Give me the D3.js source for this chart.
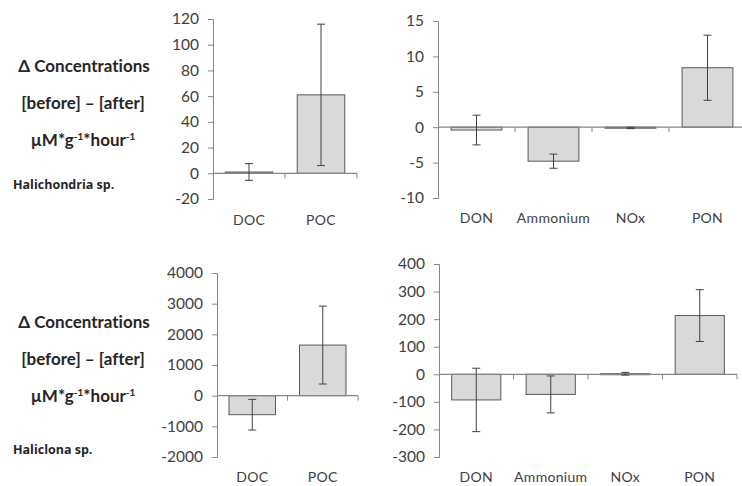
<!DOCTYPE html>
<html>
<head>
<meta charset="utf-8">
<script src="https://cdn.jsdelivr.net/npm/d3@7"></script>
<style>
  body { margin: 0; background: #fff; }
  svg { display: block; font-family: Lato, "Open Sans", sans-serif; font-variant-ligatures: none; }
</style>
</head>
<body>
<svg id="chart" width="742" height="486"></svg>
<script>
// categories
const carbonCats = ['DOC', 'POC'];
const nitrogenCats = ['DON', 'Ammonium', 'NOx', 'PON'];

// Halichondria sp. (top row)
const halichondriaC = [1, 61];
const halichondriaCErr = [6.5, 55];
const halichondriaN = [-0.4, -4.8, -0.1, 8.4];
const halichondriaNErr = [2.1, 1.0, 0.1, 4.6];

// Haliclona sp. (bottom row)
const haliclonaC = [-620, 1650];
const haliclonaCErr = [500, 1270];
const haliclonaN = [-93, -73, 2, 213];
const haliclonaNErr = [115, 67, 5, 94];

// tick labels
const ticks1 = [-20, 0, 20, 40, 60, 80, 100, 120];
const ticks2 = [-10, -5, 0, 5, 10, 15];
const ticks3 = [-2000, -1000, 0, 1000, 2000, 3000, 4000];
const ticks4 = [-300, -200, -100, 0, 100, 200, 300, 400];

const species = ['Halichondria sp.', 'Haliclona sp.'];

const svg = d3.select('#chart');

const panels = [
  { cats: carbonCats, vals: halichondriaC, errs: halichondriaCErr, ticks: ticks1,
    x0: 213, x1: 357, yTop: 19, yBot: 199, labelY: 225 },
  { cats: nitrogenCats, vals: halichondriaN, errs: halichondriaNErr, ticks: ticks2,
    x0: 438, x1: 746, yTop: 21, yBot: 198, labelY: 223 },
  { cats: carbonCats, vals: haliclonaC, errs: haliclonaCErr, ticks: ticks3,
    x0: 217, x1: 358, yTop: 273, yBot: 457, labelY: 482 },
  { cats: nitrogenCats, vals: haliclonaN, errs: haliclonaNErr, ticks: ticks4,
    x0: 439, x1: 737, yTop: 264, yBot: 457, labelY: 482 }
];

const axisColor = '#868686';
const textColor = '#404040';

panels.forEach(p => {
  const g = svg.append('g');
  const x = d3.scaleBand().domain(p.cats).range([p.x0, p.x1]).padding(0);
  const y = d3.scaleLinear()
    .domain(d3.extent(p.ticks))
    .range([p.yBot, p.yTop]);
  const bw = x.bandwidth() * 0.66;

  // y axis
  const yAxis = g.append('g')
    .attr('transform', `translate(${p.x0},0)`)
    .call(d3.axisLeft(y).tickValues(p.ticks).tickFormat(d => String(d))
      .tickSize(5).tickSizeOuter(5).tickPadding(9));
  yAxis.selectAll('path, line').attr('stroke', axisColor);
  yAxis.selectAll('text')
    .attr('fill', textColor)
    .style('font-size', '15.5px')
    .style('font-family', 'Lato, sans-serif');

  // bars
  const data = p.cats.map((c, i) => ({ cat: c, v: p.vals[i], e: p.errs[i] }));
  g.selectAll('rect.bar')
    .data(data)
    .enter()
    .append('rect')
    .attr('class', 'bar')
    .attr('x', d => x(d.cat) + (x.bandwidth() - bw) / 2)
    .attr('y', d => y(Math.max(0, d.v)))
    .attr('width', bw)
    .attr('height', d => Math.max(1, Math.abs(y(d.v) - y(0))))
    .attr('fill', '#d9d9d9')
    .attr('stroke', '#595959')
    .attr('stroke-width', 1);

  // x axis line at zero, with category ticks
  g.append('line')
    .attr('x1', p.x0).attr('x2', p.x1)
    .attr('y1', y(0)).attr('y2', y(0))
    .attr('stroke', axisColor).attr('stroke-width', 1.2);
  g.selectAll('line.xtick')
    .data(p.cats.slice(1).map(c => x(c)).concat([p.x1]))
    .enter()
    .append('line')
    .attr('class', 'xtick')
    .attr('x1', d => d).attr('x2', d => d)
    .attr('y1', y(0)).attr('y2', y(0) + 5)
    .attr('stroke', axisColor);

  // error bars
  const eb = g.selectAll('g.err')
    .data(data)
    .enter()
    .append('g')
    .attr('class', 'err')
    .attr('stroke', '#404040')
    .attr('stroke-width', 1);
  const cx = d => x(d.cat) + x.bandwidth() / 2;
  eb.append('line')
    .attr('x1', cx).attr('x2', cx)
    .attr('y1', d => y(d.v + d.e)).attr('y2', d => y(d.v - d.e));
  eb.append('line')
    .attr('x1', d => cx(d) - 4).attr('x2', d => cx(d) + 4)
    .attr('y1', d => y(d.v + d.e)).attr('y2', d => y(d.v + d.e));
  eb.append('line')
    .attr('x1', d => cx(d) - 4).attr('x2', d => cx(d) + 4)
    .attr('y1', d => y(d.v - d.e)).attr('y2', d => y(d.v - d.e));

  // category labels
  g.selectAll('text.cat')
    .data(p.cats)
    .enter()
    .append('text')
    .attr('class', 'cat')
    .attr('x', d => x(d) + x.bandwidth() / 2)
    .attr('y', p.labelY)
    .attr('text-anchor', 'middle')
    .attr('fill', textColor)
    .style('font-size', '14px')
    .style('letter-spacing', '0.3px')
    .text(d => d);
});

// left-hand labels
const labelRows = [
  { top: 72, sp: 189 },
  { top: 328, sp: 454 }
];

labelRows.forEach((r, i) => {
  const g = svg.append('g').attr('fill', '#262626').style('font-weight', 'bold');
  g.append('text')
    .attr('x', 84).attr('y', r.top)
    .attr('text-anchor', 'middle')
    .style('font-size', '17px')
    .text('\u0394 Concentrations');
  g.append('text')
    .attr('x', 83).attr('y', r.top + 37)
    .attr('text-anchor', 'middle')
    .style('font-size', '17px')
    .text('[before] \u2013 [after]');
  const u = g.append('text')
    .attr('x', 83).attr('y', r.top + 74)
    .attr('text-anchor', 'middle')
    .style('font-size', '17px');
  u.append('tspan').text('\u00b5M*g');
  u.append('tspan').attr('dy', -6).style('font-size', '10px').text('-1');
  u.append('tspan').attr('dy', 6).text('*hour');
  u.append('tspan').attr('dy', -6).style('font-size', '10px').text('-1');
  g.append('text')
    .attr('x', 13).attr('y', r.sp)
    .style('font-family', '"Open Sans", sans-serif')
    .style('font-size', '12.5px')
    .text(species[i]);
});
</script>
</body>
</html>
